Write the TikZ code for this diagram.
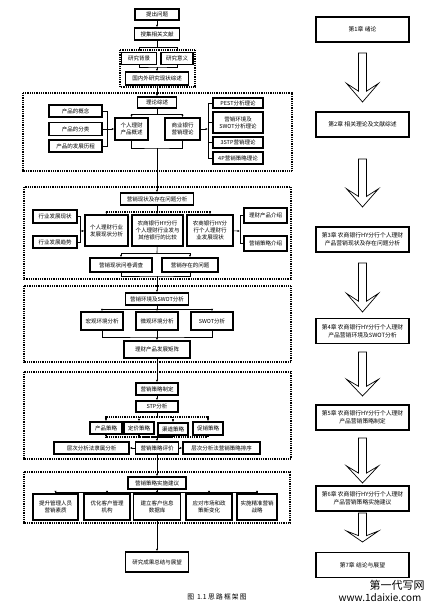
\documentclass[tikz,border=0pt]{standalone}
\usepackage{fontspec}
\setmainfont{Noto Sans CJK SC}
\usetikzlibrary{arrows.meta}

\tikzset{
  box/.style={draw,line width=1.5pt,inner sep=1pt,align=center,
    font=\fontsize{5.5}{7}\selectfont},
  chap/.style={box,minimum width=93pt,minimum height=25pt,
    font=\fontsize{5.8}{8}\selectfont},
  sz/.style 2 args={minimum width=#1pt,minimum height=#2pt},
  arr/.style={-{Latex[length=2.4pt,width=2.2pt]}},
  grp/.style={line width=1.1pt,dash pattern=on 1pt off 0.8pt},
  dotbr/.style={line width=1.1pt,dash pattern=on 1pt off 0.8pt},
}

% hollow chapter arrow: x, top, tip
\newcommand\holarrow[3]{%
  \draw[line width=0.7pt,line join=miter]
    (#1-4,#2) -- (#1-4,{#2+0.78*(#3-#2)}) -- (#1-16,{#2+0.62*(#3-#2)})
    -- (#1,#3) -- (#1+16,{#2+0.62*(#3-#2)}) -- (#1+4,{#2+0.78*(#3-#2)})
    -- (#1+4,#2) -- cycle;}

\begin{document}
\begin{tikzpicture}[x=1pt,y=-1pt,line width=0.6pt]
  \useasboundingbox (0,0) rectangle (437,612);

  % groups
  \draw[grp] (120,50) rectangle (195,87);
  \draw[grp] (23,93) rectangle (292,171);
  \draw[grp] (24,187) rectangle (291,279);
  \draw[grp] (24,286) rectangle (291,362);
  \draw[grp] (24,372) rectangle (291,459);
  \draw[grp] (24,472) rectangle (290,523);

  % research steps
  \node[box,sz={44}{11}] (n1) at (157,14.5) {提出问题};
  \node[box,sz={45}{12}] (n2) at (157,34) {搜集相关文献};
  \node[box,sz={35}{12}] (n3) at (139,58.5) {研究背景};
  \node[box,sz={32}{12}] (n4) at (177,58.5) {研究意义};
  \node[box,sz={63}{13}] (n5) at (157,78.5) {国内外研究现状综述};

  \node[box,sz={39}{11}] (t0) at (157,102.5) {理论综述};
  \node[box,sz={33}{22}] (t1) at (131.5,129) {个人理财\\产品概述};
  \node[box,sz={35}{22}] (t2) at (182.5,129) {商业银行\\营销理论};
  \node[box,sz={53}{12}] (p1) at (75.5,111) {产品的概念};
  \node[box,sz={53}{13}] (p2) at (75.5,129) {产品的分类};
  \node[box,sz={53}{12}] (p3) at (75.5,146) {产品的发展历程};
  \node[box,sz={50}{10}] (r1) at (238,103) {PEST分析理论};
  \node[box,sz={50}{21}] (r2) at (238,122.5) {营销环境及\\SWOT分析理论};
  \node[box,sz={50}{11}] (r3) at (238,142.5) {3STP营销理论};
  \node[box,sz={50}{12}] (r4) at (238,158) {4P营销策略理论};

  \node[box,sz={73}{12}] (s0) at (157,199) {营销现状及存在问题分析};
  \node[box,sz={43}{31}] (s1) at (106.5,230.5) {个人理财行业\\发展现状分析};
  \node[box,sz={51}{31}] (s2) at (157.5,230.5) {农商银行HY分行\\个人理财行业发与\\其他银行的比较};
  \node[box,sz={46}{31}] (s3) at (210,230.5) {农商银行HY分\\行个人理财行\\业发展现状};
  \node[box,sz={44}{13}] (l1) at (55,216.5) {行业发展现状};
  \node[box,sz={44}{12}] (l2) at (55,242) {行业发展趋势};
  \node[box,sz={43}{15}] (q1) at (265.5,215.5) {理财产品介绍};
  \node[box,sz={43}{15}] (q2) at (265.5,243.5) {营销策略介绍};
  \node[box,sz={62}{14}] (u1) at (121,265) {营销现状问卷调查};
  \node[box,sz={56}{14}] (u2) at (190,265) {营销存在的问题};

  \node[box,sz={63}{12}] (w0) at (157,299) {营销环境及SWOT分析};
  \node[box,sz={42}{18}] (w1) at (102,321) {宏观环境分析};
  \node[box,sz={42}{18}] (w2) at (157,321) {微观环境分析};
  \node[box,sz={42}{18}] (w3) at (212,321) {SWOT分析};
  \node[box,sz={66}{17}] (w4) at (157,349.5) {理财产品发展矩阵};

  \node[box,sz={42}{12}] (v0) at (157,389) {营销策略制定};
  \node[box,sz={42}{11}] (v1) at (157,406.5) {STP分析};
  \node[box,sz={32}{12}] (v2) at (106,428) {产品策略};
  \node[box,sz={30}{12}] (v3) at (139,428) {定价策略};
  \node[box,sz={30}{12}] (v4) at (173,429) {渠道策略};
  \node[box,sz={30}{13}] (v5) at (208,428.5) {促销策略};
  \node[box,sz={75}{12}] (v6) at (91.5,448) {层次分析法隶属分析};
  \node[box,sz={43}{12}] (v7) at (157,448) {营销策略评价};
  \node[box,sz={77}{12}] (v8) at (221.5,448) {层次分析法营销策略排序};

  \node[box,sz={58}{12}] (x0) at (157,483) {营销策略实施建议};
  \node[box,sz={45}{26}] (x1) at (55.5,507) {提升管理人员\\营销素质};
  \node[box,sz={46}{26}] (x2) at (107,507) {优化客户管理\\机构};
  \node[box,sz={47}{26}] (x3) at (157,507) {建立客户信息\\数据库};
  \node[box,sz={46}{26}] (x4) at (209,507) {应对市场和政\\策新变化};
  \node[box,sz={40}{26}] (x5) at (257,507) {实施精准营销\\战略};
  \node[box,sz={63}{20}] (y0) at (157,562) {研究成果总结与展望};

  % chapters
  \node[chap] (c1) at (362.5,29.5) {第1章 绪论};
  \node[chap] (c2) at (362.5,124.5) {第2章 相关理论及文献综述};
  \node[chap] (c3) at (362.5,239.5) {第3章 农商银行HY分行个人理财\\产品营销现状及存在问题分析};
  \node[chap] (c4) at (362.5,331) {第4章 农商银行HY分行个人理财\\产品营销环境及SWOT分析};
  \node[chap] (c5) at (362.5,417.5) {第5章 农商银行HY分行个人理财\\产品营销策略制定};
  \node[chap] (c6) at (362.5,498.5) {第6章 农商银行HY分行个人理财\\产品营销策略实施建议};
  \node[chap] (c7) at (362.5,565) {第7章 结论与展望};

  \holarrow{362.5}{53}{102}
  \holarrow{362.5}{159}{207}
  \holarrow{362.5}{263}{312}
  \holarrow{362.5}{352}{396}
  \holarrow{362.5}{438}{483}
  \holarrow{362.5}{513}{542}

  \node[font=\fontsize{6.8}{8}\selectfont] (cap) at (217,597) {图\ \ 1.1\ 思\,路\,框\,架\,图};
  \node[font=\fontsize{11}{12}\selectfont] (wm1) at (397,585) {第一代写网};
  \node[font=\fontsize{10}{12}\selectfont] (wm2) at (380,598) {www.1daixie.com};

  % links
  \draw[arr] (n1) -- (n2);
  \coordinate (b1) at (157,47);
  \draw (n2) -- (b1);
  \draw[arr] (b1) -| (n3);
  \draw[arr] (b1) -| (n4);
  \coordinate (b2) at (157,67);
  \draw (n3) |- (b2) -| (n4);
  \draw[arr] (b2) -- (n5);
  \draw[arr] (n5) -- (t0);

  \coordinate (b3) at (157,114);
  \draw (t0) -- (b3);
  \draw[arr] (b3) -| (t1);
  \draw[arr] (b3) -| (t2);
  \coordinate (b4) at (157,148);
  \draw (t1) |- (b4) -| (t2);
  \draw[arr] (b4) -- (s0);
  \coordinate (b5) at (107,129);
  \draw (p1) -| (b5);
  \draw (p3) -| (b5);
  \draw (p2) -- (b5);
  \draw[arr] (b5) -- (t1);
  \coordinate (b6) at (208,129);
  \draw[arr] (t2) -- (b6);
  \foreach \r in {r1,r2,r3,r4}
    \draw (b6) |- (\r);

  \coordinate (b7) at (157,212);
  \draw (s0) -- (b7);
  \draw[arr,dotbr] (b7) -| (s1);
  \draw[arr,dotbr] (b7) -| (s3);
  \draw[arr] (b7) -- (s2);
  \coordinate (b8) at (80,231);
  \draw (l1) -| (b8);
  \draw (l2) -| (b8);
  \draw[arr] (b8) -- (s1);
  \coordinate (b9) at (240,231);
  \draw[arr] (s3) -- (b9);
  \draw (b9) |- (q1);
  \draw (b9) |- (q2);
  \coordinate (b10) at (157,253);
  \draw (s2) -- (b10);
  \draw[arr] (b10) -| (u1);
  \draw[arr] (b10) -| (u2);
  \coordinate (b11) at (157,276);
  \draw (u1) |- (b11) -| (u2);
  \draw[arr] (b11) -- (w0);

  \coordinate (b12) at (157,309);
  \draw (w0) -- (b12);
  \draw[arr] (b12) -| (w1);
  \draw[arr] (b12) -| (w3);
  \draw[arr] (b12) -- (w2);
  \coordinate (b13) at (157,337);
  \draw (w1) |- (b13) -| (w3);
  \draw (w2) -- (b13);
  \draw[arr] (b13) -- (w4);
  \draw[arr] (w4) -- (v0);

  \draw[arr] (v0) -- (v1);
  \coordinate (b14) at (157,417);
  \draw (v1) -- (b14);
  \foreach \v in {v2,v3,v4,v5}
    \draw[arr,dotbr] (b14) -| (\v);
  \coordinate (b15) at (157,437);
  \draw[dotbr] (v2) |- (b15) -| (v5);
  \draw[dotbr] (v3) |- (b15);
  \draw[dotbr] (v4) |- (b15);
  \draw[arr] (b15) -- (v7);
  \draw[arr] (v7) -- (v6);
  \draw[arr] (v7) -- (v8);
  \draw[arr] (v7) -- (x0);

  \coordinate (b16) at (157,492);
  \draw (x0) -- (b16);
  \foreach \x in {x1,x2,x3,x4,x5}
    \draw[arr] (b16) -| (\x);
  \draw[arr] (x3) -- (y0);
\end{tikzpicture}
\end{document}
